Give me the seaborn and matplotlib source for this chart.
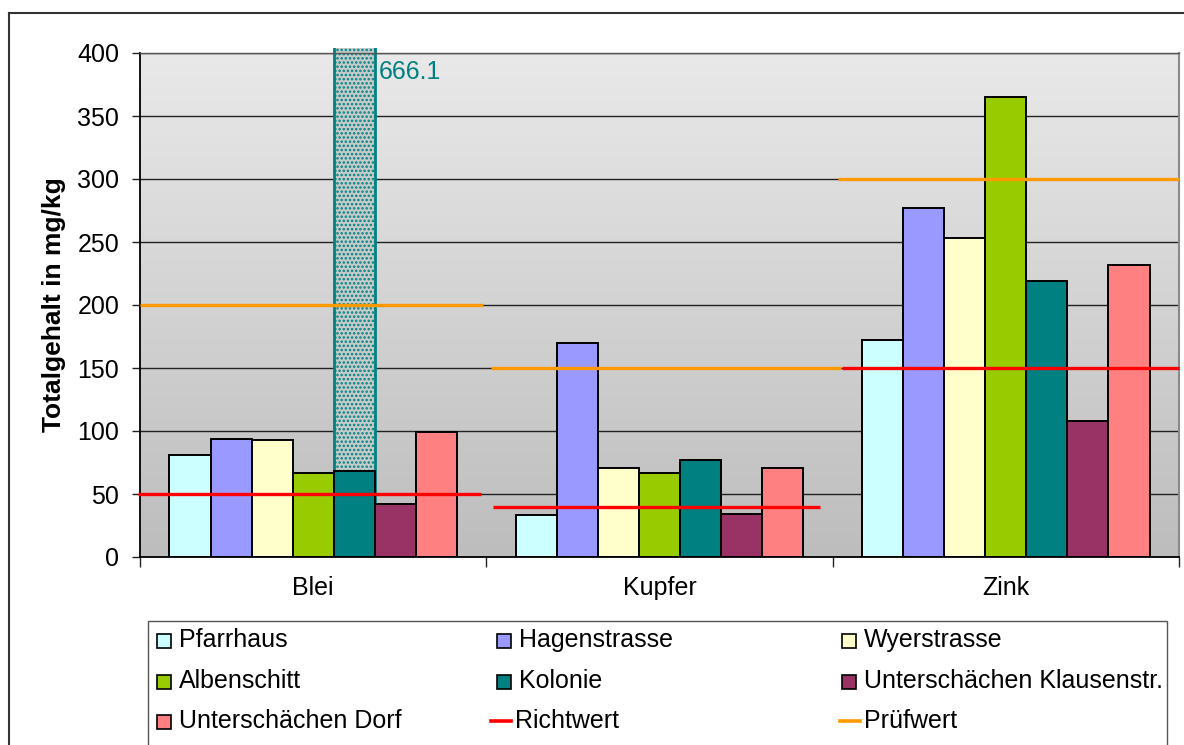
import numpy as np
import pandas as pd
import matplotlib
matplotlib.use("Agg")
import matplotlib.pyplot as plt
import seaborn as sns
from matplotlib.patches import Rectangle
from matplotlib.lines import Line2D
from matplotlib.colors import LinearSegmentedColormap

# --- data -------------------------------------------------------------
elements = ["Blei", "Kupfer", "Zink"]
sites = ["Pfarrhaus", "Hagenstrasse", "Wyerstrasse", "Albenschitt", "Kolonie",
         "Unterschächen Klausenstr.", "Unterschächen Dorf"]
pfarrhaus = [81, 33, 172]
hagenstrasse = [94, 170, 277]
wyerstrasse = [93, 71, 253]
albenschitt = [67, 67, 365]
kolonie = [68, 77, 219]
klausenstr = [42, 34, 108]
dorf = [99, 71, 232]
kolonie_blei_total = 666.1
richtwert = [50, 40, 150]
pruefwert = [200, 150, 300]
y_ticks = [0, 50, 100, 150, 200, 250, 300, 350, 400]

# --- styles -----------------------------------------------------------
site_colors = ["#CCFFFF", "#9999FF", "#FFFFCC", "#99CC00", "#008080",
               "#993366", "#FF8080"]
richt_color = "#FF0000"
pruef_color = "#FF9900"
# horizontal extent of the limit lines, relative to each category centre
richt_span = [(-0.506, 0.485), (-0.481, 0.464), (-0.473, 0.5)]
pruef_span = [(-0.5, 0.490), (-0.486, 0.524), (-0.484, 0.5)]
FS = 18

series = [pfarrhaus, hagenstrasse, wyerstrasse, albenschitt, kolonie,
          klausenstr, dorf]
df = pd.DataFrame(
    [(el, site, vals[i]) for site, vals in zip(sites, series)
     for i, el in enumerate(elements)],
    columns=["Element", "Standort", "Wert"],
)

W, H = 1184, 745
fig = plt.figure(figsize=(W / 100, H / 100), dpi=100)
plt.rcParams["font.family"] = ["Liberation Sans", "DejaVu Sans"]
plt.rcParams["hatch.linewidth"] = 1.2


def fx(px):
    return px / W


def fy(py):
    return 1 - py / H


ax_left, ax_right, ax_top, ax_bottom = 140, 1179, 53, 557
ax = fig.add_axes([fx(ax_left), fy(ax_bottom), fx(ax_right) - fx(ax_left),
                   fy(ax_top) - fy(ax_bottom)])

# gradient plot-area background
cmap = LinearSegmentedColormap.from_list("bg", ["#e9e9e9", "#bdbdbd"])
ax.imshow(np.linspace(0, 1, 256).reshape(-1, 1), cmap=cmap, aspect="auto",
          extent=(0, 1, 0, 1), transform=ax.transAxes, zorder=0)

sns.barplot(data=df, x="Element", y="Wert", hue="Standort", order=elements,
            hue_order=sites, palette=site_colors, width=0.83, gap=0,
            edgecolor="black", linewidth=1.4, saturation=1, legend=False,
            err_kws={"linewidth": 0}, ax=ax, zorder=2)

ax.set_xlim(-0.5, 2.5)
ax.set_ylim(0, 400)

# full Kolonie lead value, drawn as a stippled column running off the scale
kb = ax.containers[sites.index("Kolonie")][0]
clip = Rectangle((-1, 1), 5, 403, transform=ax.transData)
tall = ax.bar(kb.get_x() + kb.get_width() / 2, kolonie_blei_total,
              width=kb.get_width(), facecolor="#c6cccc", edgecolor="#008080",
              hatch="....", linewidth=2, zorder=1.5)[0]
tall.set_clip_path(clip)
ax.text(kb.get_x() + kb.get_width() + 0.012, 385, f"{kolonie_blei_total:.1f}",
        color="#008080", fontsize=FS, va="center", ha="left", zorder=5)

# limit values per element
for i in range(len(elements)):
    a, b = richt_span[i]
    ax.plot([i + a, i + b], [richtwert[i]] * 2, color=richt_color, lw=2.4,
            solid_capstyle="butt", zorder=4, clip_on=False)
    a, b = pruef_span[i]
    ax.plot([i + a, i + b], [pruefwert[i]] * 2, color=pruef_color, lw=2.4,
            solid_capstyle="butt", zorder=4, clip_on=False)

# axes styling
ax.set_yticks(y_ticks)
ax.yaxis.grid(True, color="#222222", linewidth=1.0)
ax.xaxis.grid(False)
ax.set_axisbelow(True)
ax.tick_params(axis="y", length=6, width=1, pad=9, labelsize=FS,
               color="#222222")
ax.set_xticks(range(len(elements)))
ax.set_xticklabels(elements)
ax.set_xticks([-0.5, 0.5, 1.5, 2.5], minor=True)
ax.tick_params(axis="x", which="major", length=0, pad=14, labelsize=FS)
ax.tick_params(axis="x", which="minor", length=7, width=1, color="#222222")
ax.set_xlabel("")
ax.set_ylabel("Totalgehalt in mg/kg", fontsize=19, fontweight="bold")
ax.yaxis.set_label_coords((66 - ax_left) / (ax_right - ax_left), 0.5)
for side in ["left", "bottom"]:
    ax.spines[side].set_color("black")
    ax.spines[side].set_linewidth(1.3)
ax.spines["top"].set_color("#555555")
ax.spines["top"].set_linewidth(1.0)
ax.spines["right"].set_color("#8a8a8a")
ax.spines["right"].set_linewidth(1.5)

# outer chart frame
fig.add_artist(Line2D([fx(9), fx(W + 5)], [fy(13), fy(13)],
                      transform=fig.transFigure, color="#333333", lw=1.5))
fig.add_artist(Line2D([fx(9), fx(9)], [fy(13), fy(H + 5)],
                      transform=fig.transFigure, color="#333333", lw=1.5))

# legend box
fig.add_artist(Rectangle((fx(148), fy(H + 10)), fx(1167) - fx(148),
                         fy(621) - fy(H + 10), transform=fig.transFigure,
                         facecolor="white", edgecolor="#555555", lw=1.0))
col_x = [157, 497, 842]
row_y = [640, 681, 721]
entries = [(s, "box", c) for s, c in zip(sites, site_colors)]
entries += [("Richtwert", "line", richt_color), ("Prüfwert", "line", pruef_color)]
for k, (label, kind, color) in enumerate(entries):
    r, c = divmod(k, 3)
    x0, y0 = col_x[c], row_y[r]
    if kind == "box":
        fig.add_artist(Rectangle((fx(x0), fy(y0 + 8)), fx(14), 14 / H,
                                 transform=fig.transFigure, facecolor=color,
                                 edgecolor="black", lw=1.2))
        tx = x0 + 22
    else:
        lx0 = x0 - 6 if c == 1 else x0 - 2
        fig.add_artist(Line2D([fx(lx0), fx(lx0 + 20)], [fy(y0), fy(y0)],
                              transform=fig.transFigure, color=color, lw=2.6))
        tx = lx0 + 24
    fig.text(fx(tx), fy(y0), label, fontsize=FS, va="center", ha="left")

fig.savefig("out.png", dpi=100)
